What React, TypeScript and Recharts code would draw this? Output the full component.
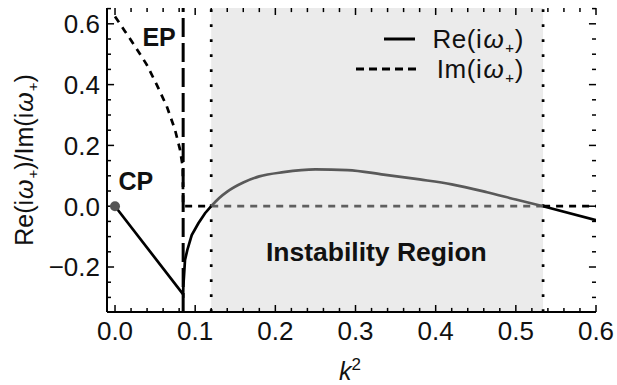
import { LineChart, Line, XAxis, YAxis, ReferenceArea, ReferenceLine, ReferenceDot, Legend } from "recharts";

const FONT = "'Liberation Sans', Arial, Helvetica, sans-serif";

// Re(iω+) : black left part (CP -> EP -> onset of instability)
const reLeftK = [0, 0.085, 0.0852, 0.086, 0.0873, 0.0902, 0.0957, 0.104, 0.1123, 0.12];
const reLeftV = [0, -0.29, -0.262, -0.232, -0.177, -0.144, -0.095, -0.056, -0.023, 0];
// Re(iω+) : grey part inside instability region
const reMidK = [0.12, 0.13, 0.14, 0.16, 0.18, 0.21, 0.25, 0.29, 0.335, 0.38, 0.42, 0.464, 0.5, 0.534];
const reMidV = [0, 0.027, 0.048, 0.078, 0.098, 0.112, 0.121, 0.119, 0.104, 0.088, 0.072, 0.046, 0.022, 0];
// Re(iω+) : black right part
const reRightK = [0.534, 0.6];
const reRightV = [0, -0.046];

// Im(iω+)
const imLeftK = [0, 0.0125, 0.025, 0.0395, 0.052, 0.0645, 0.0748, 0.081, 0.0845, 0.085, 0.12];
const imLeftV = [0.624, 0.575, 0.526, 0.466, 0.4, 0.329, 0.252, 0.187, 0.13, 0, 0];
const imMidK = [0.12, 0.534];
const imMidV = [0, 0];
const imRightK = [0.534, 0.6];
const imRightV = [0, 0];

const epK = 0.085;
const regionStart = 0.12;
const regionEnd = 0.534;

const xDomain = [-0.01, 0.6];
const yDomain = [-0.348, 0.652];
const xTicks = [0, 0.02, 0.04, 0.06, 0.08, 0.1, 0.12, 0.14, 0.16, 0.18, 0.2, 0.22, 0.24, 0.26, 0.28, 0.3,
  0.32, 0.34, 0.36, 0.38, 0.4, 0.42, 0.44, 0.46, 0.48, 0.5, 0.52, 0.54, 0.56, 0.58, 0.6];
const yTicks = [-0.3, -0.25, -0.2, -0.15, -0.1, -0.05, 0, 0.05, 0.1, 0.15, 0.2, 0.25, 0.3, 0.35, 0.4,
  0.45, 0.5, 0.55, 0.6, 0.65];

const zip = (ks: number[], vs: number[]) => ks.map((k, i) => ({ k, v: vs[i] }));

const isXMajor = (v: number) => Math.abs(v * 10 - Math.round(v * 10)) < 1e-6;
const isYMajor = (v: number) => Math.abs(v * 5 - Math.round(v * 5)) < 1e-6;
const fmt = (v: number) => v.toFixed(1).replace("-", "\u2212");

// tick mark lengths in axis units (about 7px / 4px on this plot)
const xLen = (v: number) => (isYMajor(v) ? 0.0088 : 0.005);
const yLen = (v: number) => (isXMajor(v) ? 0.023 : 0.0135);

const BottomTick = (p: any) =>
  isXMajor(p.payload.value) ? (
    <text x={p.x} y={Number(p.y) + 28} textAnchor="middle" fontFamily={FONT} fontSize={26} fill="#111">
      {fmt(p.payload.value)}
    </text>
  ) : <g />;

const LeftTick = (p: any) =>
  isYMajor(p.payload.value) ? (
    <text x={Number(p.x) - 7} y={p.y} dy="0.36em" textAnchor="end" fontFamily={FONT} fontSize={26} fill="#111">
      {fmt(p.payload.value)}
    </text>
  ) : <g />;

const TextMark = (label: string, size: number) => (p: any) => (
  <text x={p.cx} y={p.cy} dy="0.36em" textAnchor="middle" fontFamily={FONT} fontSize={size} fontWeight="bold" fill="#111">
    {label}
  </text>
);

const sub = { fontSize: 15, verticalAlign: -5, lineHeight: 0, marginLeft: 1 };
const abs = { position: "absolute" as const, whiteSpace: "nowrap" as const };

const Omega = () => (
  <>
    <i style={{ marginLeft: 1 }}>ω</i><span style={sub}>+</span>
  </>
);

// legend box plus the two axis titles, laid over the plot
const Overlay = () => (
  <div style={{ position: "relative", width: 617, height: 385, fontFamily: FONT, fontSize: 25, color: "#111", lineHeight: "30px" }}>
    <div style={{ ...abs, left: 330, top: 24, width: 194, fontSize: 26, letterSpacing: 0.6 }}>
      <div style={{ display: "flex", justifyContent: "flex-end", alignItems: "center" }}>
        <svg width={31} height={4}><line x1={0} y1={2} x2={31} y2={2} stroke="#000" strokeWidth={3} /></svg>
        <span style={{ marginLeft: 17 }}>Re(i<Omega />)</span>
      </div>
      <div style={{ display: "flex", justifyContent: "flex-end", alignItems: "center" }}>
        <svg width={60} height={4}><line x1={0} y1={2} x2={60} y2={2} stroke="#000" strokeWidth={3} strokeDasharray="8 5" /></svg>
        <span style={{ marginLeft: 21 }}>Im(i<Omega />)</span>
      </div>
    </div>
    <div style={{ ...abs, left: 24, top: 160, transform: "translate(-50%, -50%) rotate(-90deg)" }}>
      Re(i<Omega />)/Im(i<Omega />)
    </div>
    <div style={{ ...abs, left: 350, top: 356, transform: "translateX(-50%)" }}>
      <i>k</i><span style={{ fontSize: 17, verticalAlign: 10, lineHeight: 0 }}>2</span>
    </div>
  </div>
);

const tickStyle = { stroke: "#000", strokeWidth: 1.5, ifOverflow: "visible" as const };

export default function App() {
  return (
    <div style={{ position: "absolute", left: 0, top: 0, background: "#fff" }}>
      <LineChart width={617} height={385} margin={{ top: 8, right: 21, bottom: 0, left: 0 }}>
        <ReferenceArea x1={regionStart} x2={regionEnd} fill="#ebebeb" fillOpacity={1} stroke="none" />
        <XAxis
          type="number" dataKey="k" domain={xDomain} ticks={xTicks} interval={0}
          tickSize={0} tickMargin={0} tickLine={false} height={73} allowDataOverflow
          axisLine={{ stroke: "#000", strokeWidth: 2 }} tick={BottomTick}
        />
        <XAxis
          xAxisId="top" orientation="top" type="number" dataKey="k" domain={xDomain}
          tick={false} tickLine={false} height={0} allowDataOverflow axisLine={{ stroke: "#000", strokeWidth: 2 }}
        />
        <YAxis
          type="number" domain={yDomain} ticks={yTicks} interval={0} width={107}
          tickSize={0} tickMargin={0} tickLine={false} allowDataOverflow
          axisLine={{ stroke: "#000", strokeWidth: 2 }} tick={LeftTick}
        />
        <YAxis
          yAxisId="right" orientation="right" type="number" domain={yDomain}
          tick={false} tickLine={false} width={0} allowDataOverflow axisLine={{ stroke: "#000", strokeWidth: 2 }}
        />

        {/* inward tick marks on all four sides of the frame */}
        {xTicks.map((t) => (
          <ReferenceLine key={`b${t}`} segment={[{ x: t, y: yDomain[0] }, { x: t, y: yDomain[0] + yLen(t) }]} {...tickStyle} />
        ))}
        {xTicks.map((t) => (
          <ReferenceLine key={`t${t}`} segment={[{ x: t, y: yDomain[1] }, { x: t, y: yDomain[1] - yLen(t) }]} {...tickStyle} />
        ))}
        {yTicks.map((t) => (
          <ReferenceLine key={`l${t}`} segment={[{ x: xDomain[0], y: t }, { x: xDomain[0] + xLen(t), y: t }]} {...tickStyle} />
        ))}
        {yTicks.map((t) => (
          <ReferenceLine key={`r${t}`} segment={[{ x: xDomain[1], y: t }, { x: xDomain[1] - xLen(t), y: t }]} {...tickStyle} />
        ))}

        <ReferenceLine x={epK} stroke="#000" strokeWidth={3} strokeDasharray="19 6" />
        <ReferenceLine x={regionStart} stroke="#000" strokeWidth={2.7} strokeDasharray="2.7 12.3" />
        <ReferenceLine x={regionEnd} stroke="#000" strokeWidth={2.7} strokeDasharray="2.7 12.3" />

        <Line data={zip(imLeftK, imLeftV)} dataKey="v" stroke="#000" strokeWidth={2.7} strokeDasharray="7 6" dot={false} isAnimationActive={false} />
        <Line data={zip(imMidK, imMidV)} dataKey="v" stroke="#5f5f5f" strokeWidth={2.7} strokeDasharray="7 6" dot={false} isAnimationActive={false} />
        <Line data={zip(imRightK, imRightV)} dataKey="v" stroke="#000" strokeWidth={2.7} strokeDasharray="7 6" dot={false} isAnimationActive={false} />
        <Line data={zip(reLeftK, reLeftV)} dataKey="v" stroke="#000" strokeWidth={2.7} dot={false} isAnimationActive={false} />
        <Line data={zip(reMidK, reMidV)} type="monotone" dataKey="v" stroke="#595959" strokeWidth={2.7} dot={false} isAnimationActive={false} />
        <Line data={zip(reRightK, reRightV)} dataKey="v" stroke="#000" strokeWidth={2.7} dot={false} isAnimationActive={false} />

        <ReferenceDot x={0} y={0} r={5} fill="#555" stroke="none" />
        <ReferenceDot x={0.055} y={0.558} r={0} shape={TextMark("EP", 25)} />
        <ReferenceDot x={0.026} y={0.083} r={0} shape={TextMark("CP", 25)} />
        <ReferenceDot x={0.326} y={-0.15} r={0} shape={TextMark("Instability Region", 26.5)} />

        <Legend
          layout="horizontal" verticalAlign="middle" align="center"
          wrapperStyle={{ left: 0, top: 0, width: 617, height: 385, pointerEvents: "none" }}
          content={() => <Overlay />}
        />
      </LineChart>
    </div>
  );
}
